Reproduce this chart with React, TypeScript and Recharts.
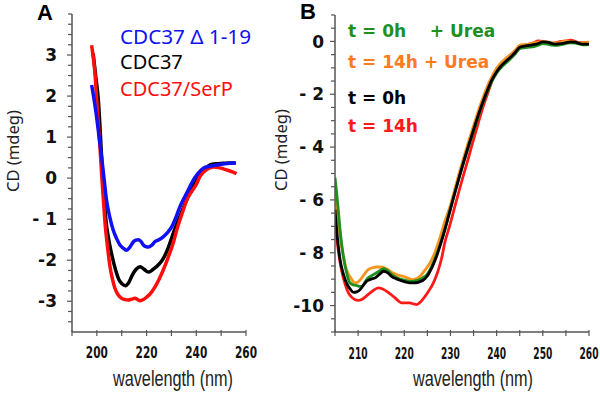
import React from 'react';
import { LineChart, Line, XAxis, YAxis } from 'recharts';

// ---------- Panel A ----------
const xTicksA = [190, 200, 210, 220, 230, 240, 250, 260];
const xLabelsA = [200, 220, 240, 260];
const yTicksA = [4, 3.75, 3.5, 3.25, 3, 2.75, 2.5, 2.25, 2, 1.75, 1.5, 1.25, 1, 0.75, 0.5, 0.25, 0, -0.25, -0.5, -0.75, -1, -1.25, -1.5, -1.75, -2, -2.25, -2.5, -2.75, -3, -3.25, -3.5];
const yLabelValsA = [3, 2, 1, 0, -1, -2, -3];
const yLabelTextsA = ['3', '2', '1', '0', '- 1', '-2', '-3'];
const legendA = ['CDC37 Δ 1-19', 'CDC37', 'CDC37/SerP'];

const cdc37Delta: number[][] = [
  [197.9, 2.27], [198.8, 1.95], [199.7, 1.58], [200.8, 1.05], [201.9, 0.52], [202.9, -0.02], [203.9, -0.54],
  [205.2, -0.95], [206.6, -1.27], [208, -1.48], [209.3, -1.63], [210.7, -1.71], [212, -1.76], [213.3, -1.68],
  [214.7, -1.55], [215.7, -1.51], [216.7, -1.5], [217.7, -1.54], [218.7, -1.63], [219.7, -1.67], [220.7, -1.68],
  [222, -1.64], [223.4, -1.55], [225, -1.5], [226.7, -1.43], [228.4, -1.33], [230.1, -1.19], [231.8, -0.96],
  [233.4, -0.7], [234.8, -0.52], [236.1, -0.37], [237.5, -0.2], [238.8, -0.05], [240.8, 0.12], [242.8, 0.24],
  [245.5, 0.29], [248.2, 0.32], [251.5, 0.35], [254.9, 0.37], [256, 0.37],
];
const cdc37: number[][] = [
  [198.5, 3.04], [199.5, 2.5], [200.6, 1.9], [201.3, 1.2], [201.9, 0.52], [202.7, -0.2], [203.5, -0.94],
  [204.8, -1.5], [206.2, -1.92], [207.6, -2.25], [209, -2.49], [210.2, -2.58], [211.5, -2.62], [212.8, -2.55],
  [214.2, -2.37], [215.8, -2.22], [217.4, -2.16], [219, -2.22], [220.7, -2.29], [222.3, -2.24], [223.9, -2.16],
  [225.3, -2.08], [226.7, -1.96], [228.7, -1.7], [230.7, -1.35], [233.1, -0.98], [235.5, -0.62], [237.5, -0.35],
  [239.5, -0.12], [241.5, 0.07], [243.5, 0.2], [245.5, 0.32], [248, 0.35], [250.9, 0.36], [253.3, 0.37], [255.6, 0.37],
];
const cdc37SerP: number[][] = [
  [197.9, 3.24], [198.6, 2.92], [199.25, 2.55], [199.9, 1.95], [200.6, 1.33], [201.3, 0.72], [201.9, 0.11],
  [202.6, -0.5], [203.3, -1.1], [204.3, -1.68], [205.3, -2.16], [206.3, -2.47], [207.3, -2.69], [208.6, -2.85],
  [210, -2.93], [211.3, -2.96], [212.6, -2.97], [214, -2.95], [215.3, -2.93], [216.4, -2.96], [217.4, -2.99],
  [218.7, -2.96], [220, -2.9], [221.7, -2.8], [223.4, -2.65], [225, -2.47], [226.7, -2.24], [228.7, -1.93],
  [230.7, -1.59], [232.1, -1.27], [233.4, -1.02], [234.8, -0.77], [236.1, -0.54], [238.2, -0.32], [240.2, -0.13],
  [241.5, 0.05], [244, 0.2], [246.8, 0.27], [249.5, 0.25], [252.2, 0.2], [254.2, 0.16], [256.2, 0.11],
];

// ---------- Panel B ----------
const xTicksB = [205, 210, 215, 220, 225, 230, 235, 240, 245, 250, 255, 260];
const xLabelsB = [210, 220, 230, 240, 250, 260];
const yTicksB = [1, 0.5, 0, -0.5, -1, -1.5, -2, -2.5, -3, -3.5, -4, -4.5, -5, -5.5, -6, -6.5, -7, -7.5, -8, -8.5, -9, -9.5, -10, -10.5, -11];
const yLabelValsB = [0, -2, -4, -6, -8, -10];
const yLabelTextsB = ['0', '- 2', '- 4', '- 6', '- 8', '-10'];
const legendB = ['t = 0h    + Urea', 't = 14h + Urea', 't = 0h', 't = 14h'];

const t0Urea: number[][] = [
  [205, -5.16], [205.4, -5.8], [205.7, -6.36], [206.2, -7.3], [206.8, -8.13], [207.5, -8.75], [208.2, -9.13],
  [209, -9.22], [209.7, -9.24], [210.3, -9.27], [210.8, -9.27], [211.4, -9.15], [211.9, -9.0], [212.6, -8.9],
  [213.3, -8.83], [214.4, -8.72], [215.5, -8.6], [216.4, -8.68], [217.3, -8.83], [218.2, -8.93], [219.1, -9.0],
  [220.2, -9.05], [221.2, -9.08], [222.1, -9.07], [223, -9.04], [224, -8.95], [224.9, -8.83], [226, -8.5],
  [227, -8.07], [228, -7.55], [229, -6.97], [230, -6.33], [231, -5.7], [232, -5.08], [233, -4.5], [234, -3.95],
  [235, -3.4], [236, -2.85], [237, -2.35], [238, -1.9], [239, -1.5], [240, -1.2], [241, -0.98], [242, -0.82],
  [243, -0.66], [244, -0.48], [245, -0.28], [246, -0.24], [247, -0.22], [248, -0.2], [249, -0.14], [250, -0.08],
  [251, -0.1], [252, -0.14], [253, -0.15], [254, -0.12], [255, -0.08], [256, -0.05], [257, -0.06], [258, -0.1],
  [259, -0.13], [260, -0.12],
];
const t14Urea: number[][] = [
  [205, -5.6], [205.5, -6.5], [206.1, -7.37], [206.8, -8.1], [207.5, -8.64], [208.4, -8.95], [209.3, -9.14],
  [210, -9.1], [210.8, -8.95], [211.5, -8.78], [212.2, -8.64], [213.1, -8.57], [214, -8.54], [214.9, -8.54],
  [215.8, -8.58], [216.7, -8.67], [217.6, -8.77], [218.7, -8.85], [219.8, -8.9], [220.8, -8.96], [221.9, -9.02],
  [222.7, -8.97], [223.4, -8.89], [224.5, -8.65], [225.6, -8.38], [226.6, -8.0], [227.7, -7.45], [228.8, -6.8],
  [230, -6.2], [231, -5.55], [232, -4.92], [233, -4.32], [234, -3.75], [235, -3.2], [236, -2.65], [237, -2.15],
  [238, -1.7], [239, -1.32], [240, -1.02], [241, -0.8], [242, -0.64], [243, -0.5], [244, -0.33], [245, -0.15],
  [246, -0.12], [247, -0.1], [248, -0.06], [249, -0.03], [250, 0.0], [251, -0.02], [252, -0.05], [253, -0.06],
  [254, -0.03], [255, 0.02], [256, 0.0], [257, -0.02], [258, -0.05], [259, -0.05], [260, -0.02],
];
const t0: number[][] = [
  [205, -6.36], [205.5, -7.4], [206.1, -8.26], [206.8, -8.8], [207.5, -9.15], [208.3, -9.38], [209, -9.5],
  [209.7, -9.48], [210.4, -9.4], [211.2, -9.22], [211.9, -9.07], [212.8, -9.0], [213.7, -8.95], [214.6, -8.82],
  [215.5, -8.7], [216.4, -8.76], [217.3, -8.9], [218.2, -8.98], [219.1, -9.04], [220.2, -9.1], [221.2, -9.14],
  [222.1, -9.14], [223, -9.12], [224, -9.05], [224.9, -8.9], [226, -8.55], [227, -8.13], [228, -7.6], [229, -7.0],
  [230, -6.35], [231, -5.7], [232, -5.07], [233, -4.47], [234, -3.9], [235, -3.35], [236, -2.8], [237, -2.3],
  [238, -1.85], [239, -1.45], [240, -1.15], [241, -0.92], [242, -0.75], [243, -0.6], [244, -0.42], [245, -0.22],
  [246, -0.18], [247, -0.15], [248, -0.12], [249, -0.08], [250, -0.02], [251, -0.03], [252, -0.08], [253, -0.1],
  [254, -0.08], [255, -0.05], [256, -0.02], [257, -0.03], [258, -0.08], [259, -0.1], [260, -0.1],
];
const t14: number[][] = [
  [205, -6.6], [205.5, -7.6], [206.4, -8.64], [207.2, -9.2], [207.9, -9.52], [208.6, -9.68], [209.3, -9.77],
  [210, -9.8], [210.8, -9.77], [211.7, -9.65], [212.6, -9.52], [213.5, -9.4], [214.4, -9.33], [215.3, -9.37],
  [216.2, -9.46], [217.1, -9.58], [218, -9.71], [218.7, -9.82], [219.4, -9.9], [220.3, -9.9], [221.2, -9.9],
  [222, -9.94], [222.7, -9.96], [223.6, -9.85], [224.5, -9.65], [225.4, -9.42], [226.3, -9.14], [227.2, -8.75],
  [228.1, -8.2], [228.8, -7.6], [229.8, -7.0], [230.8, -6.35], [231.8, -5.7], [232.8, -5.07], [233.8, -4.47],
  [234.7, -3.9], [235.6, -3.35], [236.5, -2.8], [237.4, -2.3], [238.3, -1.85], [239.1, -1.45], [240, -1.15],
  [241, -0.9], [242, -0.74], [243, -0.58], [244, -0.4], [245, -0.2], [246, -0.14], [247, -0.1], [248, -0.05],
  [249, 0.02], [250, 0.0], [251, -0.05], [252, -0.08], [253, -0.04], [254, 0.0], [255, 0.02], [256, 0.05],
  [257, 0.0], [258, -0.05], [259, -0.05], [260, -0.05],
];

const pts = (a: number[][]) => a.map(([x, y]) => ({ x, y }));

const AXIS = '#555';
const tickFont = 'DejaVu Sans, Verdana, sans-serif';

function makeYTick(vals: number[], texts: string[], gap: number) {
  return (props: any) => {
    const { x, y, payload } = props;
    const i = vals.indexOf(payload.value);
    const major = i >= 0;
    return (
      <g>
        <line x1={x - (major ? 5 : 4)} x2={x} y1={y} y2={y} stroke={AXIS} strokeWidth={1.2} />
        {major && (
          <text x={x - gap} y={y} dy="0.36em" textAnchor="end" fill="#111" xmlSpace="preserve"
            style={{ fontFamily: tickFont, fontWeight: 700, fontSize: 17 }}>
            {texts[i]}
          </text>
        )}
      </g>
    );
  };
}

function makeXTick(labels: number[], dy: number, len: number) {
  return (props: any) => {
    const { x, y, payload } = props;
    const show = labels.indexOf(payload.value) >= 0;
    return (
      <g>
        <line x1={x} x2={x} y1={y - 2} y2={y + 4} stroke={AXIS} strokeWidth={1.2} />
        {show && (
          <text x={x} y={y + dy} textAnchor="middle" fill="#111"
            style={{ fontFamily: tickFont, fontWeight: 700, fontSize: 15 }}
            textLength={len} lengthAdjust="spacingAndGlyphs">
            {String(payload.value)}
          </text>
        )}
      </g>
    );
  };
}

export default function App() {
  return (
    <div style={{ position: 'absolute', left: 0, top: 0, width: 600, height: 401, background: '#fff', overflow: 'hidden' }}>
      <div style={{ position: 'absolute', left: 0, top: 0 }}>
        <LineChart width={300} height={401} margin={{ top: 14, right: 54, bottom: 0, left: 0 }}>
          <XAxis type="number" dataKey="x" domain={[190, 260]} ticks={xTicksA} allowDataOverflow height={69}
            tickSize={0} tickMargin={0} tickLine={false} axisLine={{ stroke: AXIS, strokeWidth: 1.5 }}
            tick={makeXTick(xLabelsA, 26, 22)} interval={0} />
          <YAxis type="number" dataKey="y" domain={[-3.75, 4]} ticks={yTicksA} allowDataOverflow width={72}
            tickSize={0} tickMargin={0} tickLine={false} axisLine={{ stroke: AXIS, strokeWidth: 1.5 }}
            tick={makeYTick(yLabelValsA, yLabelTextsA, 15)} interval={0} />
          <Line data={pts(cdc37)} dataKey="y" type="monotone" dot={false} stroke="#000" strokeWidth={3.5} isAnimationActive={false} />
          <Line data={pts(cdc37SerP)} dataKey="y" type="monotone" dot={false} stroke="#ff0d0d" strokeWidth={3.5} isAnimationActive={false} />
          <Line data={pts(cdc37Delta)} dataKey="y" type="monotone" dot={false} stroke="#1010f5" strokeWidth={3.5} isAnimationActive={false} />
        </LineChart>
      </div>
      <div style={{ position: 'absolute', left: 290, top: 0 }}>
        <LineChart width={310} height={401} margin={{ top: 15, right: 11, bottom: 0, left: 0 }}>
          <XAxis type="number" dataKey="x" domain={[205, 260]} ticks={xTicksB} allowDataOverflow height={69}
            tickSize={0} tickMargin={0} tickLine={false} axisLine={{ stroke: AXIS, strokeWidth: 1.5 }}
            tick={makeXTick(xLabelsB, 27, 19)} interval={0} />
          <YAxis type="number" dataKey="y" domain={[-11, 1]} ticks={yTicksB} allowDataOverflow width={45}
            tickSize={0} tickMargin={0} tickLine={false} axisLine={{ stroke: AXIS, strokeWidth: 1.5 }}
            tick={makeYTick(yLabelValsB, yLabelTextsB, 11)} interval={0} />
          <Line data={pts(t14)} dataKey="y" type="monotone" dot={false} stroke="#ff1a1a" strokeWidth={2.8} isAnimationActive={false} />
          <Line data={pts(t14Urea)} dataKey="y" type="monotone" dot={false} stroke="#f7941d" strokeWidth={2.8} isAnimationActive={false} />
          <Line data={pts(t0Urea)} dataKey="y" type="monotone" dot={false} stroke="#1f8f1f" strokeWidth={2.8} isAnimationActive={false} />
          <Line data={pts(t0)} dataKey="y" type="monotone" dot={false} stroke="#000" strokeWidth={2.8} isAnimationActive={false} />
        </LineChart>
      </div>
      <svg width={600} height={401} style={{ position: 'absolute', left: 0, top: 0, pointerEvents: 'none' }}>
        <text x={37} y={20} style={{ fontFamily: 'Liberation Sans, Arial, sans-serif', fontWeight: 700, fontSize: 22 }} fill="#000">A</text>
        <text x={300} y={19} style={{ fontFamily: 'Liberation Sans, Arial, sans-serif', fontWeight: 700, fontSize: 22 }} fill="#000">B</text>

        <g style={{ fontFamily: 'Noto Sans, sans-serif', fontSize: 20 }}>
          <text x={120} y={44} fill="#1010f5" textLength={131} lengthAdjust="spacingAndGlyphs">{legendA[0]}</text>
          <text x={120} y={69} fill="#000">{legendA[1]}</text>
          <text x={120} y={96} fill="#ff0d0d">{legendA[2]}</text>
        </g>

        <g style={{ fontFamily: tickFont, fontWeight: 700, fontSize: 17 }}>
          <text x={348} y={37} fill="#1f8f1f" xmlSpace="preserve" style={{ whiteSpace: 'pre' }}>{legendB[0]}</text>
          <text x={348} y={68} fill="#ff7a21">{legendB[1]}</text>
          <text x={348} y={104} fill="#000">{legendB[2]}</text>
          <text x={348} y={132} fill="#ff1a1a">{legendB[3]}</text>
        </g>

        <g style={{ fontFamily: 'Noto Sans, sans-serif', fontSize: 17 }} fill="#222">
          <text x={12} y={151} textAnchor="middle" dominantBaseline="central" transform="rotate(-90 12 151)" textLength={82} lengthAdjust="spacingAndGlyphs">CD (mdeg)</text>
          <text x={280} y={150} textAnchor="middle" dominantBaseline="central" transform="rotate(-90 280 150)" textLength={82} lengthAdjust="spacingAndGlyphs">CD (mdeg)</text>
        </g>

        <g style={{ fontFamily: 'Liberation Sans Narrow, Liberation Sans, Arial, sans-serif', fontSize: 22 }} fill="#222">
          <text x={173} y={386} textAnchor="middle" textLength={120} lengthAdjust="spacingAndGlyphs">wavelength (nm)</text>
          <text x={473} y={386} textAnchor="middle" textLength={120} lengthAdjust="spacingAndGlyphs">wavelength (nm)</text>
        </g>
      </svg>
    </div>
  );
}
